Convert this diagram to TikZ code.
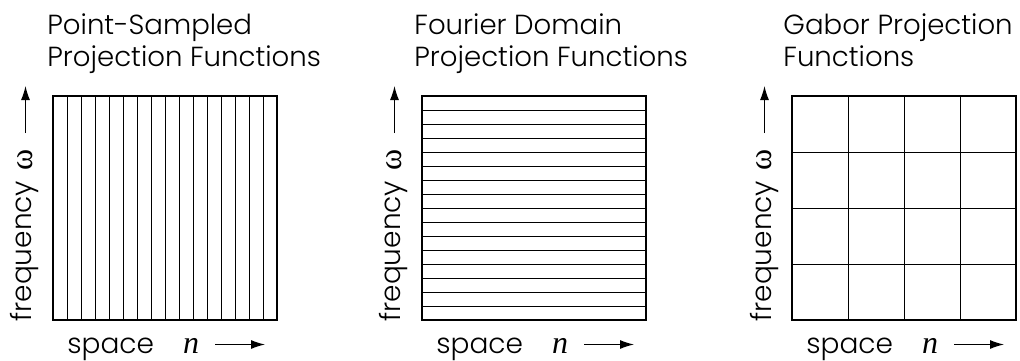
\documentclass[tikz,border=0pt]{standalone}
\usepackage{fontspec}
\IfFontExistsTF{Poppins Light}{\setmainfont{Poppins Light}}{\setmainfont{Poppins}}
\newfontfamily\symfont{Liberation Serif}
\usetikzlibrary{arrows.meta,positioning}
\tikzset{
  frame/.style={line width=1pt},
  rule/.style={line width=0.5pt},
  ttl/.style={font=\fontsize{13.8}{16}\selectfont,align=left,anchor=north west,inner sep=0pt},
  axlab/.style={font=\fontsize{14}{16}\selectfont,inner sep=0pt},
  axsym/.style={font=\symfont\fontsize{16}{18}\selectfont,inner sep=0pt},
  axarr/.style={-{Latex[length=7pt,width=4.5pt]},line width=0.6pt},
}

\begin{document}
\begin{tikzpicture}[x=0.5pt,y=-0.5pt]
  \useasboundingbox (0,0) rectangle (1020,360);
  % titles
  \node[ttl] (ttlA) at (47,13) {Point-Sampled\\Projection Functions};
  \node[ttl] (ttlB) at (414,13) {Fourier Domain\\Projection Functions};
  \node[ttl] (ttlC) at (783,13) {Gabor Projection\\Functions};
  % point-sampled: vertical strips, 14 units apart
  \foreach \i in {1,...,15}{\draw[rule] ({53.5+\i*14},96) -- ++(0,224);}
  % fourier: horizontal strips
  \foreach \i in {1,...,15}{\draw[rule] (422,{96.5+\i*14}) -- ++(224,0);}
  % gabor: 4x4 tiles
  \foreach \i in {1,2,3}{
    \draw[rule] ({792.5+\i*56},96) -- ++(0,224);
    \draw[rule] (792,{96.5+\i*56}) -- ++(224,0);}
  \draw[frame] (53,96) rectangle (277,320);
  \draw[frame] (422,96) rectangle (646,320);
  \draw[frame] (792,96) rectangle (1016,320);
  % axis labels
  \foreach \bx/\p in {53/a,422/b,792/c}{
    \node[axlab,rotate=90,anchor=west] (fq\p) at (\bx-28,322) {frequency};
    \node[axsym,rotate=90] (om\p) at (\bx-28,160) {ω};
    \coordinate (fs\p) at (\bx-27.5,133);
    \coordinate (fe\p) at (\bx-27.5,86);
    \draw[axarr] (fs\p) -- (fe\p);
    \node[axlab,anchor=base west] (sp\p) at (\bx+14,353) {space};
    \node[axsym,anchor=base] (n\p) at (\bx+138,353) {\itshape n};
    \coordinate (ss\p) at (\bx+162,344.5);
    \coordinate (se\p) at (\bx+212,344.5);
    \draw[axarr] (ss\p) -- (se\p);
  }
\end{tikzpicture}
\end{document}
